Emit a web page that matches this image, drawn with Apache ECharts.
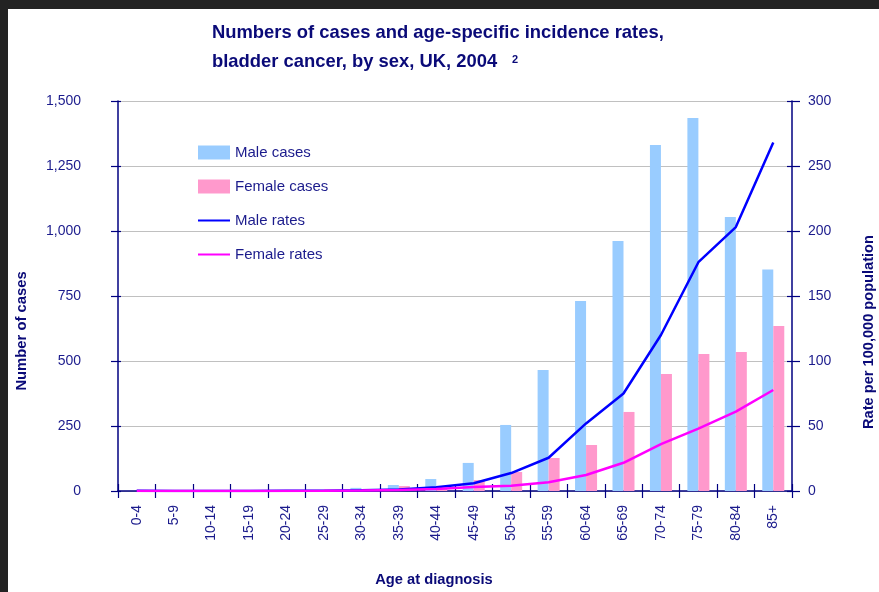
<!DOCTYPE html>
<html>
<head>
<meta charset="utf-8">
<script src="https://cdn.jsdelivr.net/npm/echarts@6/dist/echarts.min.js"></script>
<style>
html,body{margin:0;padding:0;background:#ffffff;}
#chart{width:879px;height:592px;}
</style>
</head>
<body>
<div id="chart"></div>
<script>
var categories = ['0-4','5-9','10-14','15-19','20-24','25-29','30-34','35-39','40-44','45-49','50-54','55-59','60-64','65-69','70-74','75-79','80-84','85+'];
var maleCases = [0,0,0,0,1,3,12,23,46,108,254,465,731,962,1331,1435,1054,852];
var femaleCases = [0,0,0,0,1,2,6,19,14,42,73,127,177,304,450,527,535,635];
var maleRates = [0.1,0,0,0,0.1,0.2,0.5,1.2,2.8,6,13.8,25.6,52,75,120,176,203,268];
var femaleRates = [0,0,0,0,0,0.1,0.3,0.8,1.5,3,4,6.7,12.3,21.7,36,48,61,77.7];
var leftTicks = [0,250,500,750,1000,1250,1500];
var rightTicks = [0,50,100,150,200,250,300];

var navy = '#000080';
var txt = '#1b1b8c';
var font = 'Liberation Sans, Arial, sans-serif';

var chart = echarts.init(document.getElementById('chart'), null, {renderer:'canvas'});
var option = {
  backgroundColor: '#ffffff',
  animation: false,
  textStyle: {fontFamily: font},
  grid: {left:118, right:87, top:101, bottom:101, containLabel:false},
  graphic: [
    {type:'rect', left:0, top:0, shape:{width:879, height:9}, style:{fill:'#232323'}, z:100},
    {type:'rect', left:0, top:0, shape:{width:8, height:592}, style:{fill:'#232323'}, z:100},
    {type:'text', left:212, top:24, style:{text:'Numbers of cases and age-specific incidence rates,', fill:'#0a0a78', font:'bold 18.4px Liberation Sans, Arial, sans-serif'}},
    {type:'text', left:212, top:53, style:{text:'bladder cancer, by sex, UK, 2004', fill:'#0a0a78', font:'bold 18.4px Liberation Sans, Arial, sans-serif'}},
    {type:'text', left:512, top:54, style:{text:'2', fill:'#0a0a78', font:'bold 11px Liberation Sans, Arial, sans-serif'}},
    {type:'text', x:22, y:331, rotation:Math.PI/2, style:{text:'Number of cases', fill:'#0a0a78', font:'bold 14.8px Liberation Sans, Arial, sans-serif', align:'center', verticalAlign:'middle'}},
    {type:'text', x:869, y:332, rotation:Math.PI/2, style:{text:'Rate per 100,000 population', fill:'#0a0a78', font:'bold 14.6px Liberation Sans, Arial, sans-serif', align:'center', verticalAlign:'middle'}},
    {type:'text', x:434, y:580, style:{text:'Age at diagnosis', fill:'#0a0a78', font:'bold 14.7px Liberation Sans, Arial, sans-serif', align:'center', verticalAlign:'middle'}}
  ],
  legend: {
    orient:'vertical', left:197, top:145, padding:0,
    itemWidth:32, itemHeight:14, itemGap:19,
    textStyle:{color:txt, fontSize:15, fontFamily:font},
    data:[
      {name:'Male cases', icon:'rect'},
      {name:'Female cases', icon:'rect'},
      {name:'Male rates', itemStyle:{opacity:0}},
      {name:'Female rates', itemStyle:{opacity:0}}
    ]
  },
  xAxis: [{
    type:'category', data:categories, position:'bottom',
    axisLine:{show:true, lineStyle:{color:navy, width:1.5}},
    axisTick:{show:true, interval:0, length:7, lineStyle:{color:navy, width:1.2}},
    axisLabel:{interval:0, rotate:90, margin:14, color:txt, fontSize:14, fontFamily:font},
    splitLine:{show:false}
  },{
    type:'category', data:categories, position:'bottom',
    axisLine:{show:false},
    axisTick:{show:true, inside:true, interval:0, length:7, lineStyle:{color:navy, width:1.2}},
    axisLabel:{show:false}, splitLine:{show:false}
  }],
  yAxis: [{
    type:'value', min:0, max:1500, interval:250, position:'left',
    axisLine:{show:true, lineStyle:{color:navy, width:1.5}},
    axisTick:{show:true, length:7, lineStyle:{color:navy, width:1.2}},
    axisLabel:{margin:37, color:txt, fontSize:14, fontFamily:font,
      formatter:function(v){ return leftTicks.indexOf(v) >= 0 ? v.toLocaleString('en-US') : ''; }},
    splitLine:{show:true, lineStyle:{color:'#c0c0c0', width:1}}
  },{
    type:'value', min:0, max:300, interval:50, position:'right',
    axisLine:{show:true, lineStyle:{color:navy, width:1.5}},
    axisTick:{show:true, length:8, lineStyle:{color:navy, width:1.2}},
    axisLabel:{margin:16, color:txt, fontSize:14, fontFamily:font,
      formatter:function(v){ return rightTicks.indexOf(v) >= 0 ? String(v) : ''; }},
    splitLine:{show:false}
  },{
    type:'value', min:0, max:1500, interval:250, position:'left',
    axisLine:{show:false}, axisLabel:{show:false}, splitLine:{show:false},
    axisTick:{show:true, inside:true, length:3, lineStyle:{color:navy, width:1.2}}
  },{
    type:'value', min:0, max:300, interval:50, position:'right',
    axisLine:{show:false}, axisLabel:{show:false}, splitLine:{show:false},
    axisTick:{show:true, inside:true, length:5, lineStyle:{color:navy, width:1.2}}
  }],
  series: [
    {name:'Male cases', type:'bar', data:maleCases, barWidth:11, barGap:'0%', itemStyle:{color:'#99ccff'}, yAxisIndex:0, z:2},
    {name:'Female cases', type:'bar', data:femaleCases, barWidth:11, barGap:'0%', itemStyle:{color:'#ff99cc'}, yAxisIndex:0, z:2},
    {name:'Male rates', type:'line', data:maleRates, yAxisIndex:1, symbol:'none', showSymbol:false, lineStyle:{color:'#0000ff', width:2.5}, itemStyle:{color:'#0000ff'}, z:4},
    {name:'Female rates', type:'line', data:femaleRates, yAxisIndex:1, symbol:'none', showSymbol:false, lineStyle:{color:'#ff00ff', width:2.5}, itemStyle:{color:'#ff00ff'}, z:5}
  ]
};
chart.setOption(option);
</script>
</body>
</html>
